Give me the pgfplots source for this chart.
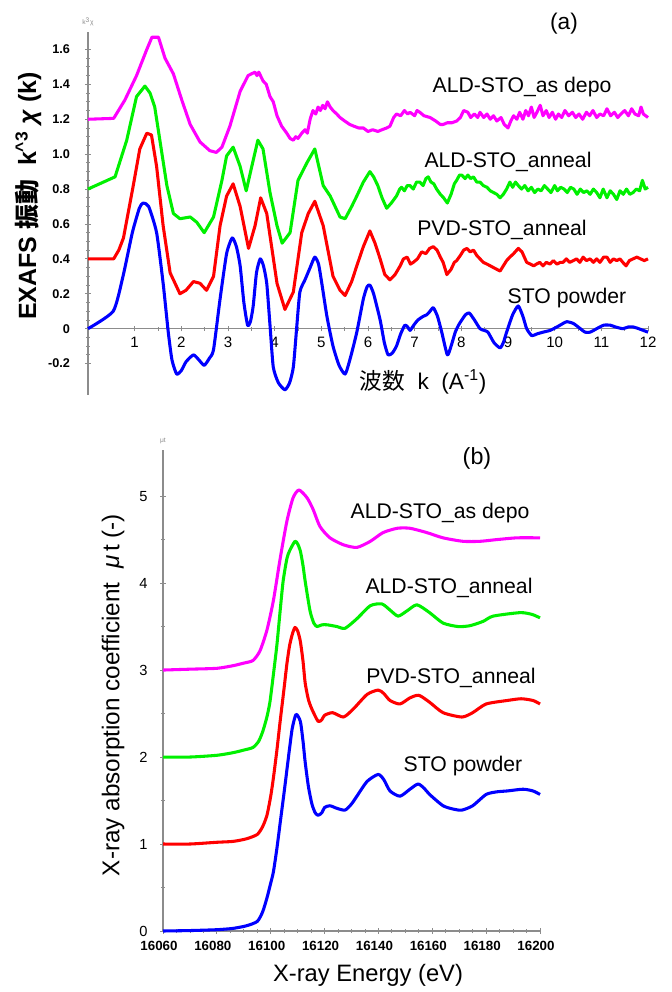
\documentclass[border=0pt]{standalone}
\usepackage{fontspec}
\setmainfont{Liberation Sans}
\newfontfamily\cjk{Noto Sans CJK JP}
\usepackage{pgfplots}
\pgfplotsset{compat=1.18}
\definecolor{cMag}{HTML}{FF00FF}
\definecolor{cGrn}{HTML}{00F000}
\definecolor{cRed}{HTML}{FF0000}
\definecolor{cBlu}{HTML}{0000FF}
\definecolor{axgray}{HTML}{8C8C8C}
\pgfplotsset{
  xas axis/.style={
    scale only axis, anchor=south west, clip=false,
    axis line style={draw=axgray, line width=0.9pt},
    tick style={draw=axgray, line width=0.6pt},
    tick align=center, major tick length=4pt, minor tick length=3pt,
    hide obscured x ticks=false, hide obscured y ticks=false,
    scaled x ticks=false, scaled y ticks=false,
    every axis plot/.append style={line width=2.3pt, line join=round, mark=none},
  }
}
\begin{document}
\begin{tikzpicture}
\path[use as bounding box] (0,0) rectangle (503.25pt,744pt);

% (a) EXAFS
\begin{axis}[
  xas axis,
  at={(66pt,447.75pt)}, width=420pt, height=272.25pt,
  xmin=0, xmax=12, ymin=-0.38, ymax=1.70,
  axis x line*=middle, axis y line*=left,
  xtick={1,2,3,4,5,6,7,8,9,10,11,12},
  xticklabels={1,2,3,4,5,6,7,8,9,10,11,12},
  minor x tick num=1,
  ytick={-0.2,0,0.2,0.4,0.6,0.8,1.0,1.2,1.4,1.6},
  yticklabels={-0.2,0,0.2,0.4,0.6,0.8,1.0,1.2,1.4,1.6},
  minor y tick num=3,
  xticklabel style={font=\fontsize{11.3}{13}\selectfont, yshift=-1pt},
  yticklabel style={font=\fontsize{9.5}{11}\selectfont\bfseries, anchor=east, xshift=-8pt},
]
\addplot[cMag] coordinates {
(0,1.20) (0.55,1.205) (0.79,1.31) (1.04,1.45) (1.26,1.60) (1.37,1.67) (1.51,1.67)
(1.65,1.55) (1.83,1.46) (2.01,1.31) (2.19,1.17) (2.40,1.07) (2.61,1.02) (2.75,1.01)
(2.87,1.04) (3.04,1.16) (3.26,1.36) (3.43,1.45) (3.50,1.46) (3.58,1.47) (3.62,1.45)
(3.66,1.47) (3.75,1.42) (3.82,1.40) (3.90,1.33) (3.97,1.30) (4.05,1.22) (4.15,1.16)
(4.26,1.12) (4.33,1.09) (4.40,1.08) (4.45,1.10) (4.50,1.09) (4.58,1.12) (4.65,1.14)
(4.70,1.12) (4.76,1.20) (4.82,1.25) (4.88,1.23) (4.93,1.27) (4.98,1.25) (5.03,1.28)
(5.08,1.26) (5.13,1.30) (5.19,1.27) (5.25,1.25) (5.33,1.23) (5.40,1.21) (5.50,1.19)
(5.61,1.17) (5.70,1.16) (5.80,1.15) (5.90,1.15) (6.00,1.13) (6.10,1.14) (6.21,1.13)
(6.30,1.14) (6.40,1.15) (6.47,1.16) (6.55,1.21) (6.61,1.23) (6.70,1.22) (6.78,1.25)
(6.85,1.23) (6.90,1.24) (7.00,1.22) (7.05,1.25) (7.11,1.24) (7.20,1.22) (7.33,1.21)
(7.45,1.19) (7.55,1.17) (7.61,1.17) (7.70,1.18) (7.80,1.18) (7.90,1.19) (7.98,1.21)
(8.05,1.25) (8.14,1.24) (8.20,1.21) (8.28,1.23) (8.35,1.21) (8.40,1.24) (8.48,1.21)
(8.55,1.23) (8.62,1.20) (8.69,1.22) (8.76,1.19) (8.85,1.21) (8.92,1.17) (9.00,1.15)
(9.06,1.19) (9.12,1.22) (9.19,1.20) (9.25,1.24) (9.32,1.20) (9.38,1.25) (9.44,1.22)
(9.50,1.27) (9.56,1.21) (9.62,1.24) (9.69,1.28) (9.75,1.22) (9.82,1.25) (9.88,1.21)
(9.95,1.24) (10.02,1.20) (10.08,1.23) (10.15,1.21) (10.22,1.25) (10.30,1.22) (10.38,1.24)
(10.45,1.21) (10.52,1.23) (10.60,1.20) (10.68,1.24) (10.75,1.22) (10.82,1.25) (10.90,1.21)
(10.97,1.23) (11.05,1.22) (11.12,1.26) (11.20,1.22) (11.28,1.24) (11.35,1.21) (11.42,1.23)
(11.50,1.25) (11.58,1.22) (11.65,1.26) (11.72,1.23) (11.80,1.22) (11.85,1.27) (11.90,1.23)
(11.95,1.22) (12.00,1.21)
};
\addplot[cGrn] coordinates {
(0,0.80) (0.58,0.87) (0.83,1.08) (1.04,1.33) (1.22,1.39) (1.33,1.35) (1.43,1.27)
(1.54,1.08) (1.69,0.82) (1.83,0.66) (1.97,0.63) (2.19,0.64) (2.33,0.61) (2.49,0.55)
(2.69,0.64) (2.87,0.85) (2.97,0.99) (3.11,1.04) (3.26,0.93) (3.39,0.79) (3.51,0.93)
(3.64,1.08) (3.75,1.03) (3.90,0.78) (4.05,0.59) (4.16,0.49) (4.33,0.55) (4.50,0.85)
(4.69,0.95) (4.86,1.03) (5.04,0.82) (5.19,0.76) (5.40,0.64) (5.51,0.63) (5.65,0.70)
(5.76,0.76) (5.90,0.84) (6.04,0.90) (6.12,0.87) (6.21,0.82) (6.30,0.75) (6.40,0.69)
(6.50,0.72) (6.61,0.76) (6.68,0.80) (6.72,0.81) (6.78,0.79) (6.84,0.82) (6.90,0.82)
(6.97,0.80) (7.04,0.84) (7.11,0.84) (7.18,0.82) (7.24,0.86) (7.29,0.87) (7.35,0.84)
(7.41,0.83) (7.47,0.80) (7.55,0.77) (7.62,0.75) (7.70,0.72) (7.78,0.77) (7.85,0.83)
(7.90,0.85) (7.96,0.88) (8.01,0.88) (8.08,0.86) (8.14,0.88) (8.20,0.86) (8.26,0.87)
(8.33,0.84) (8.40,0.84) (8.47,0.82) (8.55,0.81) (8.62,0.79) (8.69,0.78) (8.76,0.77)
(8.83,0.75) (8.90,0.77) (8.97,0.80) (9.04,0.84) (9.10,0.81) (9.16,0.84) (9.22,0.82)
(9.29,0.80) (9.36,0.82) (9.43,0.79) (9.50,0.81) (9.57,0.78) (9.64,0.80) (9.71,0.79)
(9.78,0.82) (9.85,0.80) (9.92,0.78) (10.00,0.82) (10.06,0.79) (10.13,0.81) (10.20,0.80)
(10.27,0.78) (10.34,0.81) (10.41,0.80) (10.48,0.77) (10.55,0.80) (10.62,0.78) (10.69,0.79)
(10.76,0.77) (10.83,0.80) (10.90,0.78) (10.97,0.75) (11.04,0.80) (11.12,0.75) (11.19,0.79)
(11.26,0.77) (11.33,0.74) (11.40,0.79) (11.47,0.77) (11.54,0.80) (11.61,0.77) (11.68,0.78)
(11.75,0.80) (11.82,0.79) (11.88,0.85) (11.94,0.80) (12.00,0.81)
};
\addplot[cRed] coordinates {
(0,0.40) (0.55,0.40) (0.66,0.45) (0.76,0.52) (0.97,0.82) (1.11,1.03) (1.26,1.12)
(1.36,1.11) (1.47,0.93) (1.61,0.59) (1.76,0.32) (1.97,0.20) (2.10,0.22) (2.26,0.27)
(2.40,0.26) (2.54,0.22) (2.69,0.30) (2.83,0.59) (2.97,0.76) (3.11,0.83) (3.26,0.70)
(3.44,0.46) (3.58,0.59) (3.70,0.75) (3.83,0.66) (4.05,0.26) (4.22,0.11) (4.40,0.21)
(4.58,0.55) (4.72,0.66) (4.86,0.73) (5.04,0.59) (5.25,0.30) (5.40,0.22) (5.51,0.19)
(5.65,0.27) (5.76,0.36) (5.90,0.47) (6.04,0.56) (6.15,0.49) (6.26,0.40) (6.36,0.31)
(6.47,0.28) (6.58,0.31) (6.69,0.36) (6.76,0.40) (6.84,0.41) (6.91,0.37) (6.97,0.38)
(7.06,0.40) (7.15,0.44) (7.24,0.43) (7.32,0.46) (7.40,0.47) (7.48,0.45) (7.55,0.41)
(7.61,0.38) (7.69,0.31) (7.78,0.34) (7.85,0.38) (7.90,0.39) (7.98,0.42) (8.05,0.45)
(8.12,0.46) (8.19,0.44) (8.26,0.45) (8.33,0.42) (8.40,0.40) (8.47,0.38) (8.55,0.37)
(8.62,0.36) (8.69,0.35) (8.76,0.34) (8.83,0.33) (8.90,0.36) (8.97,0.39) (9.04,0.41)
(9.12,0.43) (9.22,0.46) (9.30,0.44) (9.40,0.38) (9.48,0.37) (9.55,0.36) (9.61,0.37)
(9.68,0.38) (9.75,0.36) (9.82,0.38) (9.90,0.37) (9.97,0.39) (10.05,0.37) (10.12,0.38)
(10.18,0.38) (10.25,0.40) (10.32,0.38) (10.40,0.39) (10.47,0.40) (10.54,0.38) (10.61,0.41)
(10.68,0.39) (10.76,0.40) (10.83,0.38) (10.90,0.40) (10.97,0.38) (11.05,0.41) (11.12,0.41)
(11.19,0.38) (11.26,0.40) (11.33,0.39) (11.40,0.40) (11.46,0.38) (11.53,0.36) (11.60,0.39)
(11.68,0.40) (11.76,0.41) (11.84,0.40) (11.92,0.39) (12.00,0.40)
};
\addplot[cBlu, smooth, tension=0.35] coordinates {
(0,0) (0.54,0.10) (0.75,0.30) (0.95,0.55) (1.10,0.69) (1.18,0.72) (1.30,0.70)
(1.47,0.55) (1.61,0.26) (1.72,-0.02) (1.80,-0.18) (1.90,-0.26) (2.00,-0.24) (2.10,-0.19)
(2.26,-0.15) (2.38,-0.18) (2.49,-0.21) (2.60,-0.17) (2.69,-0.12) (2.83,0.17) (2.97,0.43)
(3.09,0.52) (3.18,0.47) (3.26,0.36) (3.34,0.15) (3.42,0.02) (3.48,0.04) (3.54,0.13)
(3.61,0.32) (3.69,0.40) (3.76,0.36) (3.83,0.26) (3.90,0.02) (3.97,-0.22) (4.08,-0.31)
(4.22,-0.35) (4.32,-0.31) (4.40,-0.22) (4.47,0.00) (4.54,0.21) (4.65,0.28) (4.76,0.35)
(4.86,0.41) (4.94,0.37) (5.01,0.26) (5.12,0.07) (5.25,-0.10) (5.38,-0.21) (5.51,-0.26)
(5.62,-0.17) (5.76,-0.02) (5.90,0.17) (5.98,0.24) (6.04,0.25) (6.12,0.20) (6.26,0.05)
(6.35,-0.08) (6.43,-0.15) (6.52,-0.14) (6.61,-0.10) (6.70,-0.03) (6.79,0.02) (6.85,0.01)
(6.90,-0.01) (6.98,0.02) (7.07,0.05) (7.18,0.07) (7.26,0.08) (7.33,0.10) (7.40,0.12)
(7.49,0.07) (7.58,-0.02) (7.70,-0.15) (7.78,-0.10) (7.87,-0.02) (7.94,0.02) (8.01,0.05)
(8.09,0.08) (8.17,0.09) (8.28,0.05) (8.40,0.00) (8.49,-0.01) (8.57,-0.02) (8.70,-0.08)
(8.83,-0.11) (8.90,-0.08) (8.97,-0.02) (9.10,0.08) (9.22,0.13) (9.32,0.07) (9.40,0.00)
(9.51,-0.04) (9.62,-0.03) (9.75,-0.02) (9.90,-0.01) (10.05,0.01) (10.18,0.03) (10.26,0.04)
(10.40,0.03) (10.55,0.00) (10.65,-0.02) (10.76,-0.02) (10.90,0.00) (11.05,0.02) (11.19,0.02)
(11.30,0.01) (11.46,0.00) (11.58,0.01) (11.68,0.01) (11.80,0.00) (11.90,-0.01) (12.00,-0.02)
};
\end{axis}

% (b) XANES
\begin{axis}[
  xas axis,
  at={(122.25pt,45.75pt)}, width=282.75pt, height=360.75pt,
  xmin=16060, xmax=16200, ymin=0, ymax=5.53,
  axis x line*=bottom, axis y line*=left,
  xtick={16060,16080,16100,16120,16140,16160,16180,16200},
  xticklabels={16060,16080,16100,16120,16140,16160,16180,16200},
  minor x tick num=3,
  ytick={0,1,2,3,4,5},
  yticklabels={0,1,2,3,4,5},
  minor y tick num=1,
  xticklabel style={font=\fontsize{10}{12}\selectfont\bfseries, xshift=-3pt, yshift=-2pt},
  yticklabel style={font=\fontsize{11}{13}\selectfont, anchor=east, xshift=-6pt},
]
\addplot[cMag, smooth, tension=0.4] coordinates {
(16060,3.00) (16070,3.01) (16080,3.02) (16086,3.05) (16090,3.08) (16093.4,3.11)
(16096,3.22) (16098.6,3.46) (16101,3.80) (16103.5,4.28) (16106,4.71) (16108.3,4.98)
(16110.5,5.07) (16113.5,4.98) (16115.7,4.85) (16118.3,4.65) (16122,4.52) (16127,4.44)
(16132,4.41) (16137,4.48) (16141.7,4.58) (16147,4.63) (16151.7,4.63) (16158,4.58)
(16164,4.52) (16171.4,4.48) (16177.7,4.48) (16184,4.50) (16191.5,4.52) (16200,4.52)
};
\addplot[cGrn, smooth, tension=0.4] coordinates {
(16060,2.00) (16070,2.00) (16080,2.02) (16086,2.05) (16090,2.08) (16093.4,2.11)
(16095.5,2.18) (16097,2.29) (16098.5,2.45) (16099.7,2.63) (16101,2.95) (16102.3,3.29)
(16103.5,3.68) (16104.6,4.02) (16106,4.28) (16107,4.37) (16109,4.48) (16110,4.45)
(16111,4.37) (16112,4.20) (16112.8,4.02) (16114.6,3.68) (16116,3.54) (16117.2,3.50)
(16119,3.52) (16121,3.52) (16124.6,3.50) (16127.6,3.48) (16132,3.59) (16137,3.74)
(16141.3,3.76) (16144.3,3.69) (16147.3,3.62) (16150.6,3.68) (16154.3,3.75) (16159,3.66)
(16164,3.54) (16169.6,3.50) (16174,3.51) (16178.9,3.56) (16182.6,3.62) (16192.6,3.66)
(16197,3.64) (16200,3.60)
};
\addplot[cRed, smooth, tension=0.4] coordinates {
(16060,1.00) (16070,1.00) (16080,1.02) (16086,1.03) (16091,1.06) (16095,1.11)
(16097,1.20) (16098.6,1.33) (16100,1.55) (16101,1.76) (16102.3,2.08) (16103.5,2.41)
(16105,2.80) (16106,3.07) (16107,3.28) (16108,3.41) (16109,3.49) (16110,3.45)
(16111,3.33) (16112,3.10) (16112.8,2.85) (16114,2.66) (16115.3,2.55) (16117.6,2.41)
(16119,2.43) (16120,2.48) (16123,2.51) (16127,2.46) (16130.6,2.55) (16135.8,2.72)
(16139.9,2.77) (16142,2.73) (16144.3,2.65) (16148,2.61) (16151.7,2.68) (16155,2.71)
(16159,2.63) (16164,2.51) (16171,2.46) (16175,2.51) (16180,2.61) (16187.8,2.65)
(16193,2.67) (16197.4,2.65) (16200,2.61)
};
\addplot[cBlu, smooth, tension=0.4] coordinates {
(16060,0) (16070,0.005) (16080,0.015) (16086,0.03) (16091,0.06) (16095,0.11)
(16097,0.22) (16098.6,0.38) (16100,0.55) (16101,0.68) (16102.3,0.95) (16103.5,1.24)
(16105,1.60) (16106,1.85) (16107,2.10) (16108,2.33) (16109.4,2.49) (16111,2.41)
(16112,2.18) (16112.8,1.94) (16114,1.66) (16115.3,1.46) (16116.5,1.36) (16117.6,1.33)
(16119,1.36) (16120,1.42) (16122,1.44) (16124.6,1.41) (16127.6,1.39) (16130,1.46)
(16132,1.55) (16135.8,1.72) (16139.9,1.80) (16142,1.74) (16144.3,1.61) (16148,1.55)
(16151.7,1.63) (16154.7,1.69) (16157,1.64) (16159,1.57) (16164,1.44) (16168,1.40)
(16171,1.39) (16175,1.44) (16180,1.57) (16184,1.60) (16187.8,1.61) (16193.7,1.63)
(16197.4,1.61) (16200,1.57)
};
\end{axis}

\begin{scope}[x=0.75pt, y=0.75pt]
% labels, panel (a)
\node[rotate=90, font=\fontsize{18.7}{22}\selectfont\bfseries] at (28,796)
  {EXAFS {\cjk\bfseries 振動}\ \ k\textsuperscript{\textasciicircum 3} \textit{χ} (k)};
\node[font=\fontsize{17}{20}\selectfont] at (423,610)
  {{\cjk 波数}\ \ k\ \ (A\textsuperscript{-1})};
\node[font=\fontsize{17}{20}\selectfont] at (564,968) {(a)};
\node[font=\fontsize{5}{6}\selectfont, text=axgray] at (88,970) {k\textsuperscript{3}χ};
\begin{scope}[every node/.style={font=\fontsize{15.9}{18}\selectfont}]
\node at (522,905) {ALD-STO\_as depo};
\node at (508,830) {ALD-STO\_anneal};
\node at (502,762) {PVD-STO\_anneal};
\node at (567,694) {STO powder};
% labels, panel (b)
\node at (440,479) {ALD-STO\_as depo};
\node at (449,404) {ALD-STO\_anneal};
\node at (451,314) {PVD-STO\_anneal};
\node at (463,226) {STO powder};
\end{scope}
\node[font=\fontsize{17.5}{20}\selectfont] at (477,534) {(b)};
\node[font=\fontsize{5}{6}\selectfont, text=axgray] at (163,551) {μt};
\node[rotate=90, font=\fontsize{18.2}{22}\selectfont] at (113,297)
  {X-ray absorption coefficient\ \ \textit{μ}\,t (-)};
\node[font=\fontsize{17.8}{21}\selectfont] at (368,17) {X-ray Energy (eV)};
\end{scope}
\end{tikzpicture}
\end{document}
